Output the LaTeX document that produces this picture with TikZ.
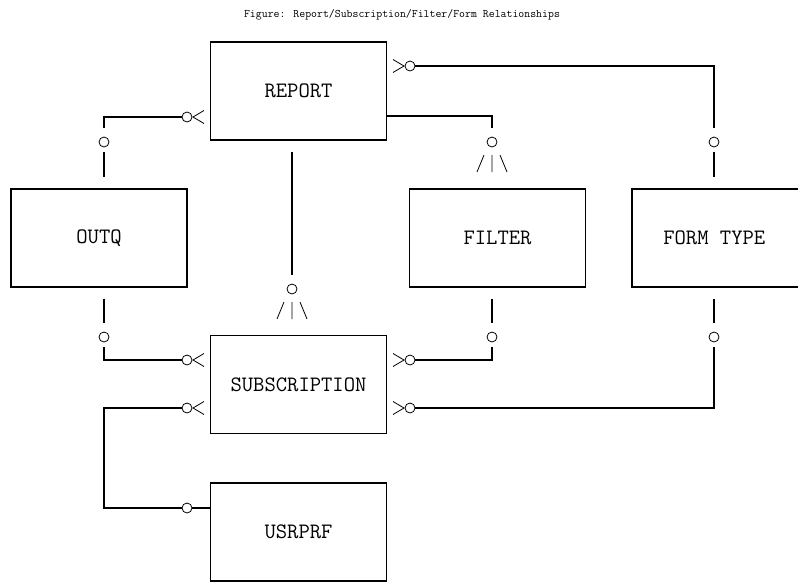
\documentclass[tikz,border=0pt]{standalone}
\usepackage{fontspec}
\usepackage{tikz}
\usetikzlibrary{positioning,calc}

\begin{document}
\begin{tikzpicture}[
	x=1pt,y=-1pt,
	ent/.style={draw,line width=1.2pt,minimum width=176pt,minimum height=98pt,inner sep=0,font=\fontsize{22}{24}\selectfont\ttfamily},
	rel/.style={line width=1.2pt},
	ring/.style={circle,draw,line width=0.8pt,inner sep=0,minimum size=10pt},
	crowl/.pic={\draw[line width=0.8pt] (11,-6.5) -- (0,0) -- (11,6.5);},
	crowr/.pic={\draw[line width=0.8pt] (-11,-6.5) -- (0,0) -- (-11,6.5);},
	crowd/.pic={\draw[line width=0.8pt] (-15,17) -- (-8,0) (0,0) -- (0,17) (8,0) -- (15,17);},
]
\useasboundingbox (0,0) rectangle (798,582);
\node[font=\fontsize{11.5}{13}\selectfont\ttfamily] (title) at (402,15) {Figure: Report/Subscription/Filter/Form Relationships};
\node[ent] (report) at (298.5,91) {REPORT};
\node[ent] (outq) at (99,238) {OUTQ};
\node[ent] (filter) at (497.5,238) {FILTER};
\node[ent] (form) at (720,238) {FORM TYPE\hspace*{11.5pt}};
\node[ent] (subs) at (298.5,384.5) {SUBSCRIPTION};
\node[ent] (usr) at (298.5,532) {USRPRF};
% report - outq
\pic at (193,117) {crowl};
\node[ring] (a1) at (187,117) {};
\node[ring] (a2) at (104,142) {};
\draw[rel,shorten >=9pt] (a1) -| (a2);
\draw[rel,shorten <=5pt,shorten >=11pt] (a2) -- (a2 |- outq.north);
% report - form type
\pic at (404,66) {crowr};
\node[ring] (b1) at (410,66) {};
\node[ring] (b2) at (714,142) {};
\draw[rel,shorten >=9pt] (b1) -| (b2);
\draw[rel,shorten <=5pt,shorten >=11pt] (b2) -- (b2 |- form.north);
% report - filter
\node[ring] (c1) at (492,142) {};
\draw[rel,shorten >=9pt] (report.east |- 0,116) -| (c1);
\pic at (492,155) {crowd};
% report - subscription
\node[ring] (d1) at (292,289) {};
\draw[rel,shorten <=11pt,shorten >=9pt] (report.south -| d1) -- (d1);
\pic at (292,302) {crowd};
% outq - subscription
\pic at (193,360) {crowl};
\node[ring] (e1) at (104,337) {};
\node[ring] (e2) at (187,360) {};
\draw[rel,shorten <=11pt,shorten >=9pt] (outq.south -| e1) -- (e1);
\draw[rel,shorten <=5pt] (e1) |- (e2);
% subscription - filter
\pic at (404,360) {crowr};
\node[ring] (f1) at (410,360) {};
\node[ring] (f2) at (492,337) {};
\draw[rel,shorten >=5pt] (f1) -| (f2);
\draw[rel,shorten <=9pt,shorten >=11pt] (f2) -- (f2 |- filter.south);
% subscription - form type
\pic at (404,408) {crowr};
\node[ring] (g1) at (410,408) {};
\node[ring] (g2) at (714,337) {};
\draw[rel,shorten >=5pt] (g1) -| (g2);
\draw[rel,shorten <=9pt,shorten >=11pt] (g2) -- (g2 |- form.south);
% subscription - usrprf
\pic at (193,408) {crowl};
\node[ring] (h1) at (187,408) {};
\node[ring] (h2) at (187,508) {};
\draw[rel] (h1) -- ++(-83,0) |- (h2);
\draw[rel] (h2) -- (h2 -| usr.west);
\end{tikzpicture}
\end{document}
